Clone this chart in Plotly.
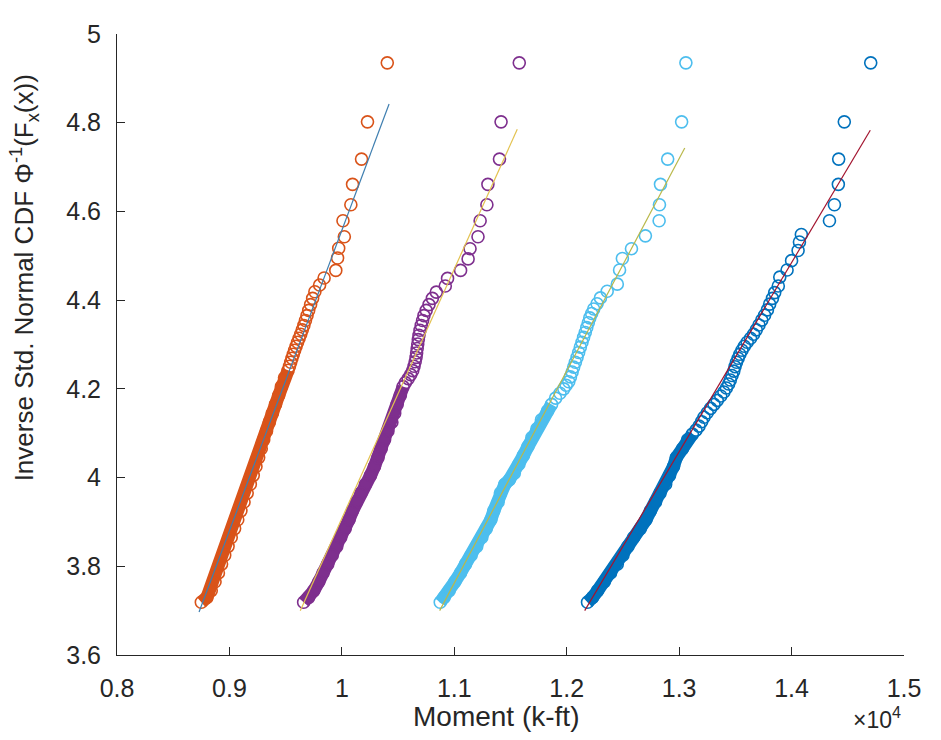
import plotly.graph_objects as go

# Moment values in units of 1e4 k-ft, inverse std. normal CDF values
orange_x = [1.0404, 1.0228, 1.0175, 1.0095, 1.0080, 1.0010, 1.0022, 0.9972, 0.9962, 0.9946,
            0.9842, 0.9802, 0.9760, 0.9740, 0.9722, 0.9705, 0.9690, 0.9676, 0.9662, 0.9648,
            0.9634, 0.9620, 0.9606, 0.9593, 0.9580, 0.9568, 0.9556, 0.9545, 0.9534, 0.9522,
            0.9490, 0.9462, 0.9438, 0.9410, 0.9382, 0.9355, 0.9330, 0.9305, 0.9283, 0.9260,
            0.9236, 0.9212, 0.9186, 0.9158, 0.9130, 0.9102, 0.9074, 0.9046, 0.9016, 0.8988,
            0.8958, 0.8930, 0.8902, 0.8872, 0.8838, 0.8800, 0.8750]
orange_y = [4.935, 4.802, 4.718, 4.661, 4.615, 4.579, 4.543, 4.517, 4.495, 4.467,
            4.450, 4.434, 4.419, 4.404, 4.390, 4.377, 4.365, 4.354, 4.343, 4.333,
            4.323, 4.314, 4.305, 4.296, 4.287, 4.278, 4.269, 4.260, 4.251, 4.242,
            4.225, 4.205, 4.185, 4.165, 4.145, 4.125, 4.105, 4.085, 4.065, 4.045,
            4.025, 4.005, 3.985, 3.965, 3.945, 3.925, 3.905, 3.885, 3.865, 3.845,
            3.825, 3.805, 3.785, 3.765, 3.745, 3.730, 3.719]

purple_x = [1.1578, 1.1416, 1.1402, 1.1299, 1.1290, 1.1230, 1.1211, 1.1140, 1.1123, 1.1056,
            1.0940, 1.0920, 1.0840, 1.0805, 1.0775, 1.0750, 1.0730, 1.0718, 1.0706, 1.0695,
            1.0686, 1.0680, 1.0675, 1.0670, 1.0665, 1.0660, 1.0652, 1.0642, 1.0630, 1.0612,
            1.0590, 1.0565, 1.0545, 1.0520, 1.0492, 1.0470, 1.0445, 1.0410, 1.0380, 1.0350,
            1.0322, 1.0290, 1.0255, 1.0210, 1.0170, 1.0128, 1.0095, 1.0064, 1.0030, 0.9990,
            0.9955, 0.9915, 0.9875, 0.9832, 0.9795, 0.9750, 0.9705, 0.9660]
purple_y = [4.935, 4.802, 4.718, 4.661, 4.615, 4.579, 4.543, 4.516, 4.493, 4.467,
            4.449, 4.432, 4.418, 4.404, 4.390, 4.377, 4.365, 4.354, 4.343, 4.332,
            4.321, 4.311, 4.301, 4.291, 4.281, 4.271, 4.261, 4.251, 4.241, 4.232,
            4.223, 4.214, 4.205, 4.185, 4.165, 4.145, 4.125, 4.105, 4.085, 4.065,
            4.045, 4.025, 4.005, 3.985, 3.965, 3.945, 3.925, 3.905, 3.885, 3.865,
            3.845, 3.825, 3.805, 3.785, 3.765, 3.745, 3.730, 3.719]

lightblue_x = [1.3060, 1.3022, 1.2898, 1.2834, 1.2825, 1.2822, 1.2700, 1.2576, 1.2495, 1.2470,
               1.2450, 1.2360, 1.2300, 1.2270, 1.2240, 1.2222, 1.2205, 1.2192, 1.2178, 1.2165,
               1.2150, 1.2136, 1.2121, 1.2106, 1.2092, 1.2077, 1.2062, 1.2048, 1.2033, 1.2018,
               1.1995, 1.1974, 1.1940, 1.1901, 1.1865, 1.1828, 1.1775, 1.1735, 1.1690, 1.1655,
               1.1615, 1.1575, 1.1534, 1.1490, 1.1450, 1.1410, 1.1390, 1.1352, 1.1325, 1.1285,
               1.1245, 1.1200, 1.1150, 1.1100, 1.1055, 1.1005, 1.0955, 1.0910, 1.0875]
lightblue_y = [4.935, 4.802, 4.718, 4.661, 4.615, 4.579, 4.545, 4.516, 4.494, 4.468,
               4.436, 4.420, 4.405, 4.392, 4.380, 4.370, 4.360, 4.349, 4.338, 4.327,
               4.316, 4.305, 4.294, 4.282, 4.271, 4.260, 4.249, 4.238, 4.227, 4.216,
               4.208, 4.200, 4.190, 4.179, 4.165, 4.150, 4.130, 4.110, 4.090, 4.070,
               4.050, 4.030, 4.010, 3.995, 3.985, 3.965, 3.945, 3.925, 3.905, 3.885,
               3.865, 3.845, 3.825, 3.805, 3.785, 3.765, 3.745, 3.730, 3.719]

darkblue_x = [1.4704, 1.4469, 1.4419, 1.4416, 1.4381, 1.4337, 1.4087, 1.4070, 1.4058, 1.4000,
              1.3960, 1.3895, 1.3882, 1.3850, 1.3830, 1.3805, 1.3785, 1.3760, 1.3735, 1.3710,
              1.3686, 1.3662, 1.3635, 1.3605, 1.3580, 1.3559, 1.3540, 1.3525, 1.3510, 1.3497,
              1.3486, 1.3470, 1.3455, 1.3440, 1.3420, 1.3398, 1.3370, 1.3339, 1.3310, 1.3280,
              1.3250, 1.3221, 1.3200, 1.3177, 1.3150, 1.3118, 1.3075, 1.3030, 1.2975, 1.2950,
              1.2915, 1.2880, 1.2830, 1.2790, 1.2745, 1.2705, 1.2655, 1.2595, 1.2545, 1.2500,
              1.2450, 1.2390, 1.2335, 1.2275, 1.2230, 1.2185]
darkblue_y = [4.935, 4.802, 4.718, 4.661, 4.615, 4.579, 4.548, 4.531, 4.512, 4.489,
              4.468, 4.452, 4.432, 4.417, 4.404, 4.391, 4.378, 4.366, 4.355, 4.344,
              4.333, 4.323, 4.314, 4.305, 4.296, 4.287, 4.278, 4.269, 4.260, 4.250,
              4.240, 4.230, 4.220, 4.211, 4.202, 4.193, 4.184, 4.174, 4.165, 4.156,
              4.146, 4.136, 4.126, 4.116, 4.107, 4.098, 4.085, 4.065, 4.045, 4.025,
              4.005, 3.985, 3.965, 3.945, 3.925, 3.905, 3.885, 3.865, 3.845, 3.825,
              3.805, 3.785, 3.765, 3.745, 3.730, 3.719]

# fitted reference lines (end points)
fit_orange_x = [0.873, 1.042]
fit_orange_y = [3.697, 4.842]
fit_purple_x = [0.963, 1.156]
fit_purple_y = [3.700, 4.785]
fit_lightblue_x = [1.087, 1.305]
fit_lightblue_y = [3.700, 4.743]
fit_darkblue_x = [1.216, 1.470]
fit_darkblue_y = [3.700, 4.783]

# y below which the markers merge into a solid band
solid_below = {"orange": 4.245, "purple": 4.21, "lightblue": 4.17, "darkblue": 4.10}

x_ticks = [0.8, 0.9, 1.0, 1.1, 1.2, 1.3, 1.4, 1.5]
x_tick_text = ["0.8", "0.9", "1", "1.1", "1.2", "1.3", "1.4", "1.5"]
y_ticks = [3.6, 3.8, 4.0, 4.2, 4.4, 4.6, 4.8, 5.0]
y_tick_text = ["3.6", "3.8", "4", "4.2", "4.4", "4.6", "4.8", "5"]

series = [
    ("orange", orange_x, orange_y, "#D95319", fit_orange_x, fit_orange_y, "#3F7FB0"),
    ("purple", purple_x, purple_y, "#7E2F8E", fit_purple_x, fit_purple_y, "#E3C250"),
    ("lightblue", lightblue_x, lightblue_y, "#4DBEEE", fit_lightblue_x, fit_lightblue_y, "#B9B84A"),
    ("darkblue", darkblue_x, darkblue_y, "#0072BD", fit_darkblue_x, fit_darkblue_y, "#A2142F"),
]

fig = go.Figure()
for name, xs, ys, col, fx, fy, fcol in series:
    thr = solid_below[name]
    bx = [x for x, y in zip(xs, ys) if y <= thr]
    by = [y for y in ys if y <= thr]
    fig.add_trace(go.Scatter(x=bx, y=by, mode="lines",
                             line=dict(color=col, width=13), hoverinfo="skip"))
    fig.add_trace(go.Scatter(x=xs, y=ys, mode="markers",
                             marker=dict(symbol="circle-open", size=12, color=col,
                                         line=dict(width=1.6))))
for name, xs, ys, col, fx, fy, fcol in series:
    fig.add_trace(go.Scatter(x=fx, y=fy, mode="lines", line=dict(color=fcol, width=1.2)))

FONT = "Liberation Sans, Arial, sans-serif"
tick_font = dict(family=FONT, size=25, color="#262626")
fig.update_layout(
    width=925, height=724,
    margin=dict(l=109, r=21, t=14, b=77),
    paper_bgcolor="white", plot_bgcolor="white",
    showlegend=False,
    font=tick_font,
    xaxis=dict(range=[0.8, 1.5], tickvals=x_ticks, ticktext=x_tick_text,
               ticks="inside", ticklen=8, tickcolor="#262626", showline=True,
               linecolor="#262626", linewidth=1, showgrid=False, zeroline=False,
               tickfont=tick_font, ticklabelstandoff=11, ticklabeloverflow="allow"),
    yaxis=dict(range=[3.6, 5.0], tickvals=y_ticks, ticktext=y_tick_text,
               ticks="inside", ticklen=8, tickcolor="#262626", showline=True,
               linecolor="#262626", linewidth=1, showgrid=False, zeroline=False,
               tickfont=tick_font, ticklabelstandoff=10, ticklabeloverflow="allow"),
    annotations=[
        dict(text="Moment (k-ft)", xref="paper", yref="paper", x=0.4818, y=-0.0995,
             xanchor="center", yanchor="middle", showarrow=False,
             font=dict(family=FONT, size=28, color="#262626")),
        dict(text="\u00d710<sup>4</sup>", xref="paper", yref="paper", x=0.966, y=-0.101,
             xanchor="center", yanchor="middle", showarrow=False,
             font=dict(family=FONT, size=23, color="#262626")),
        dict(text="Inverse Std. Normal CDF \u03a6<sup>-1</sup>(F<sub>x</sub>(x))",
             xref="paper", yref="paper", x=-0.117, y=0.608, textangle=-90,
             xanchor="center", yanchor="middle", showarrow=False,
             font=dict(family=FONT, size=26, color="#262626")),
    ],
)
fig.write_html("out.html")
